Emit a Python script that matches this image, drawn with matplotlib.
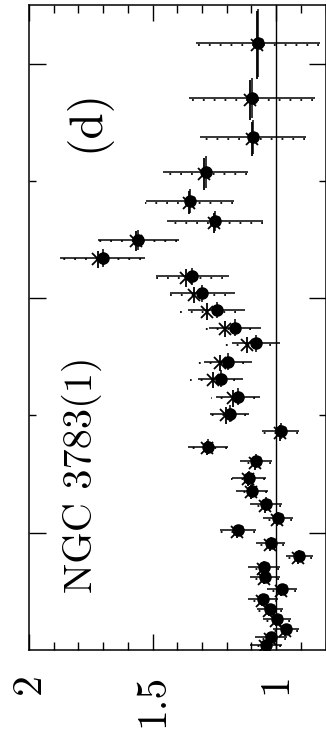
import numpy as np
import matplotlib
matplotlib.use('Agg')
import matplotlib.pyplot as plt

# ratio (data/model) versus energy, plot is drawn turned on its side
energy = [10.35, 9.41, 8.75, 8.15, 7.66, 7.32, 7.00, 6.69, 6.37, 6.08, 5.80, 5.50,
          5.23, 4.92, 4.63, 4.32, 4.03, 3.73, 3.47, 3.22, 2.94, 2.72, 2.49, 2.25,
          2.04, 1.82, 1.60, 1.41, 1.24, 1.04, 0.87, 0.70, 0.53, 0.36, 0.22, 0.09]
energy_err = [0.58, 0.34, 0.29, 0.27, 0.20, 0.17, 0.17, 0.15, 0.15, 0.14, 0.14, 0.14,
              0.14, 0.14, 0.14, 0.14, 0.14, 0.14, 0.12, 0.12, 0.12, 0.12, 0.12, 0.10,
              0.10, 0.10, 0.10, 0.10, 0.09, 0.09, 0.09, 0.09, 0.09, 0.09, 0.08, 0.08]

ratio_dot = [1.074, 1.097, 1.092, 1.285, 1.348, 1.247, 1.557, 1.702, 1.339, 1.298, 1.241, 1.168,
             1.083, 1.196, 1.224, 1.155, 1.187, 0.981, 1.275, 1.081, 1.108, 1.096, 1.040, 0.991,
             1.156, 1.022, 0.906, 1.050, 1.046, 0.977, 1.053, 1.025, 0.996, 0.960, 1.020, 1.040]
ratio_dot_err = [0.252, 0.254, 0.214, 0.173, 0.179, 0.196, 0.165, 0.173, 0.149, 0.133, 0.117, 0.105,
                 0.097, 0.097, 0.091, 0.089, 0.079, 0.075, 0.081, 0.065, 0.069, 0.065, 0.065, 0.060,
                 0.073, 0.060, 0.054, 0.065, 0.060, 0.060, 0.060, 0.053, 0.056, 0.053, 0.065, 0.065]

energy_x = [10.32, 9.38, 8.72, 8.12, 7.63, 7.29, 6.97, 6.66, 6.34, 6.05, 5.77, 5.47,
            5.20, 4.89, 4.60, 4.29, 4.00, 3.70, 3.44, 3.19, 2.91, 2.69, 2.46, 2.22,
            2.01, 1.79, 1.57, 1.38, 1.21, 1.01, 0.84, 0.67, 0.50, 0.33, 0.19, 0.06]
ratio_x = [1.078, 1.105, 1.096, 1.290, 1.352, 1.250, 1.565, 1.720, 1.363, 1.334, 1.281, 1.208,
           1.119, 1.228, 1.256, 1.175, 1.202, 0.985, 1.280, 1.085, 1.112, 1.100, 1.044, 0.995,
           1.160, 1.026, 0.910, 1.054, 1.050, 0.981, 1.057, 1.029, 1.000, 0.964, 1.024, 1.044]
ratio_x_err = [0.252, 0.254, 0.214, 0.173, 0.179, 0.196, 0.165, 0.173, 0.149, 0.133, 0.117, 0.105,
               0.097, 0.097, 0.091, 0.089, 0.079, 0.075, 0.081, 0.065, 0.069, 0.065, 0.065, 0.060,
               0.073, 0.060, 0.054, 0.065, 0.060, 0.060, 0.060, 0.053, 0.056, 0.053, 0.065, 0.065]

plt.rcParams['font.family'] = ['cmr10', 'DejaVu Serif']
plt.rcParams['axes.linewidth'] = 1.1

fig = plt.figure(figsize=(3.26, 7.36), dpi=100)
ax = fig.add_axes([29/326, 86/736, 296.5/326, 645/736])

ax.axvline(1.0, color='k', lw=1.0, zorder=1)

ebx = ax.errorbar(ratio_x, energy_x, xerr=ratio_x_err, yerr=energy_err, fmt='x',
                  color='k', ms=9, mew=1.3, elinewidth=1.3, capsize=0, zorder=2)
ebx[2][0].set_linestyle((0, (1.0, 5.0)))

ax.errorbar(ratio_dot, energy, xerr=ratio_dot_err, yerr=energy_err, fmt='o',
            color='k', ms=8, elinewidth=1.1, capsize=0, zorder=3)

ax.set_xlim(2.0, 0.8)
ax.set_ylim(0, 11)
ax.set_xticks([2, 1.5, 1])
ax.set_xticklabels(['2', '1.5', '1'])
ax.set_xticks([1.9, 1.8, 1.7, 1.6, 1.4, 1.3, 1.2, 1.1, 0.9, 0.8], minor=True)
ax.set_yticks([2, 6, 10])
ax.set_yticks([4, 8], minor=True)

ax.tick_params(axis='x', which='major', direction='in', top=True, length=11.5, width=1.0,
               labelrotation=90, labelsize=30, pad=17)
ax.tick_params(axis='x', which='minor', direction='in', top=True, length=5.5, width=1.0)
ax.tick_params(axis='y', which='major', direction='in', right=True, length=12, width=1.0,
               labelleft=False)
ax.tick_params(axis='y', which='minor', direction='in', right=True, length=5, width=1.0)

ax.text(0.2125, 0.088, 'NGC 3783(1)', transform=ax.transAxes, rotation=90,
        rotation_mode='anchor', ha='left', va='baseline', fontsize=29)
ax.text(0.233, 0.772, '(d)', transform=ax.transAxes, rotation=90,
        rotation_mode='anchor', ha='left', va='baseline', fontsize=34)

plt.savefig('out.png', dpi=100)
